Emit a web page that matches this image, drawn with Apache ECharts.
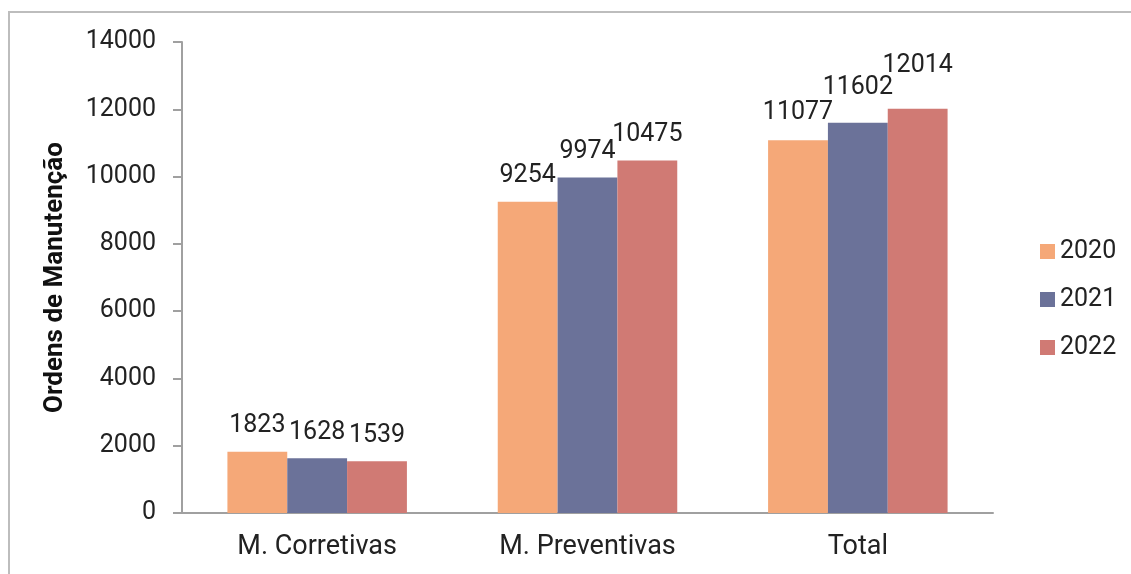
<!DOCTYPE html>
<html>
<head>
<meta charset="utf-8">
<script src="https://cdn.jsdelivr.net/npm/echarts@6/dist/echarts.min.js"></script>
<style>
  html, body { margin: 0; padding: 0; background: #fff; }
  #frame { position: absolute; left: 8px; top: 11px; width: 1200px; height: 700px; border-left: 2px solid #bdbdbd; border-top: 2px solid #bdbdbd; }
  #chart { position: absolute; left: 0; top: 0; width: 1131px; height: 574px; }
</style>
</head>
<body>
<div id="frame"></div>
<div id="chart"></div>
<script>
const categories = ['M. Corretivas', 'M. Preventivas', 'Total']
const years = ['2020', '2021', '2022']
const values2020 = [1823, 9254, 11077]
const values2021 = [1628, 9974, 11602]
const values2022 = [1539, 10475, 12014]

const COLORS = ['#f5a878', '#6b7299', '#d07a74']
// extra label lift on the Total group (labels staggered in the original)
const TOTAL_LIFT = [2, 9, 18]

const chart = echarts.init(document.getElementById('chart'))

const seriesValues = [values2020, values2021, values2022]
const series = years.map((y, s) => ({
  name: y,
  type: 'bar',
  barGap: '0%',
  barCategoryGap: '33.6%',
  itemStyle: { color: COLORS[s] },
  label: {
    show: true,
    position: 'top',
    distance: 13,
    color: '#222',
    fontSize: 25,
    fontFamily: 'Roboto',
  },
  data: seriesValues[s].map((v, i) => i === 2
    ? { value: v, label: { offset: [0, -TOTAL_LIFT[s]] } }
    : v),
}))

chart.setOption({
  animation: false,
  textStyle: { fontFamily: 'Roboto' },
  grid: { left: 182, right: 138, top: 42, bottom: 61 },
  legend: {
    orient: 'vertical',
    left: 1035,
    top: 234,
    itemWidth: 15,
    itemHeight: 15,
    itemGap: 23,
    icon: 'rect',
    textStyle: { color: '#222', fontSize: 25, fontFamily: 'Roboto' },
    data: years,
  },
  xAxis: {
    type: 'category',
    data: categories,
    axisLine: { lineStyle: { color: '#a0a0a0', width: 2 } },
    axisTick: { show: false },
    axisLabel: { color: '#222', fontSize: 27, margin: 21 },
  },
  yAxis: {
    type: 'value',
    min: 0,
    max: 14000,
    interval: 2000,
    name: 'Ordens de Manutenção',
    nameLocation: 'middle',
    nameGap: 114,
    nameTextStyle: { color: '#111', fontSize: 26, fontWeight: 'bold', fontFamily: 'Roboto' },
    axisLine: { show: true, lineStyle: { color: '#a0a0a0', width: 2 } },
    axisTick: { show: true, length: 9, lineStyle: { color: '#a0a0a0', width: 2 } },
    axisLabel: { color: '#222', fontSize: 25, margin: 26, formatter: v => String(v) },
    splitLine: { show: false },
  },
  series,
})
</script>
</body>
</html>
